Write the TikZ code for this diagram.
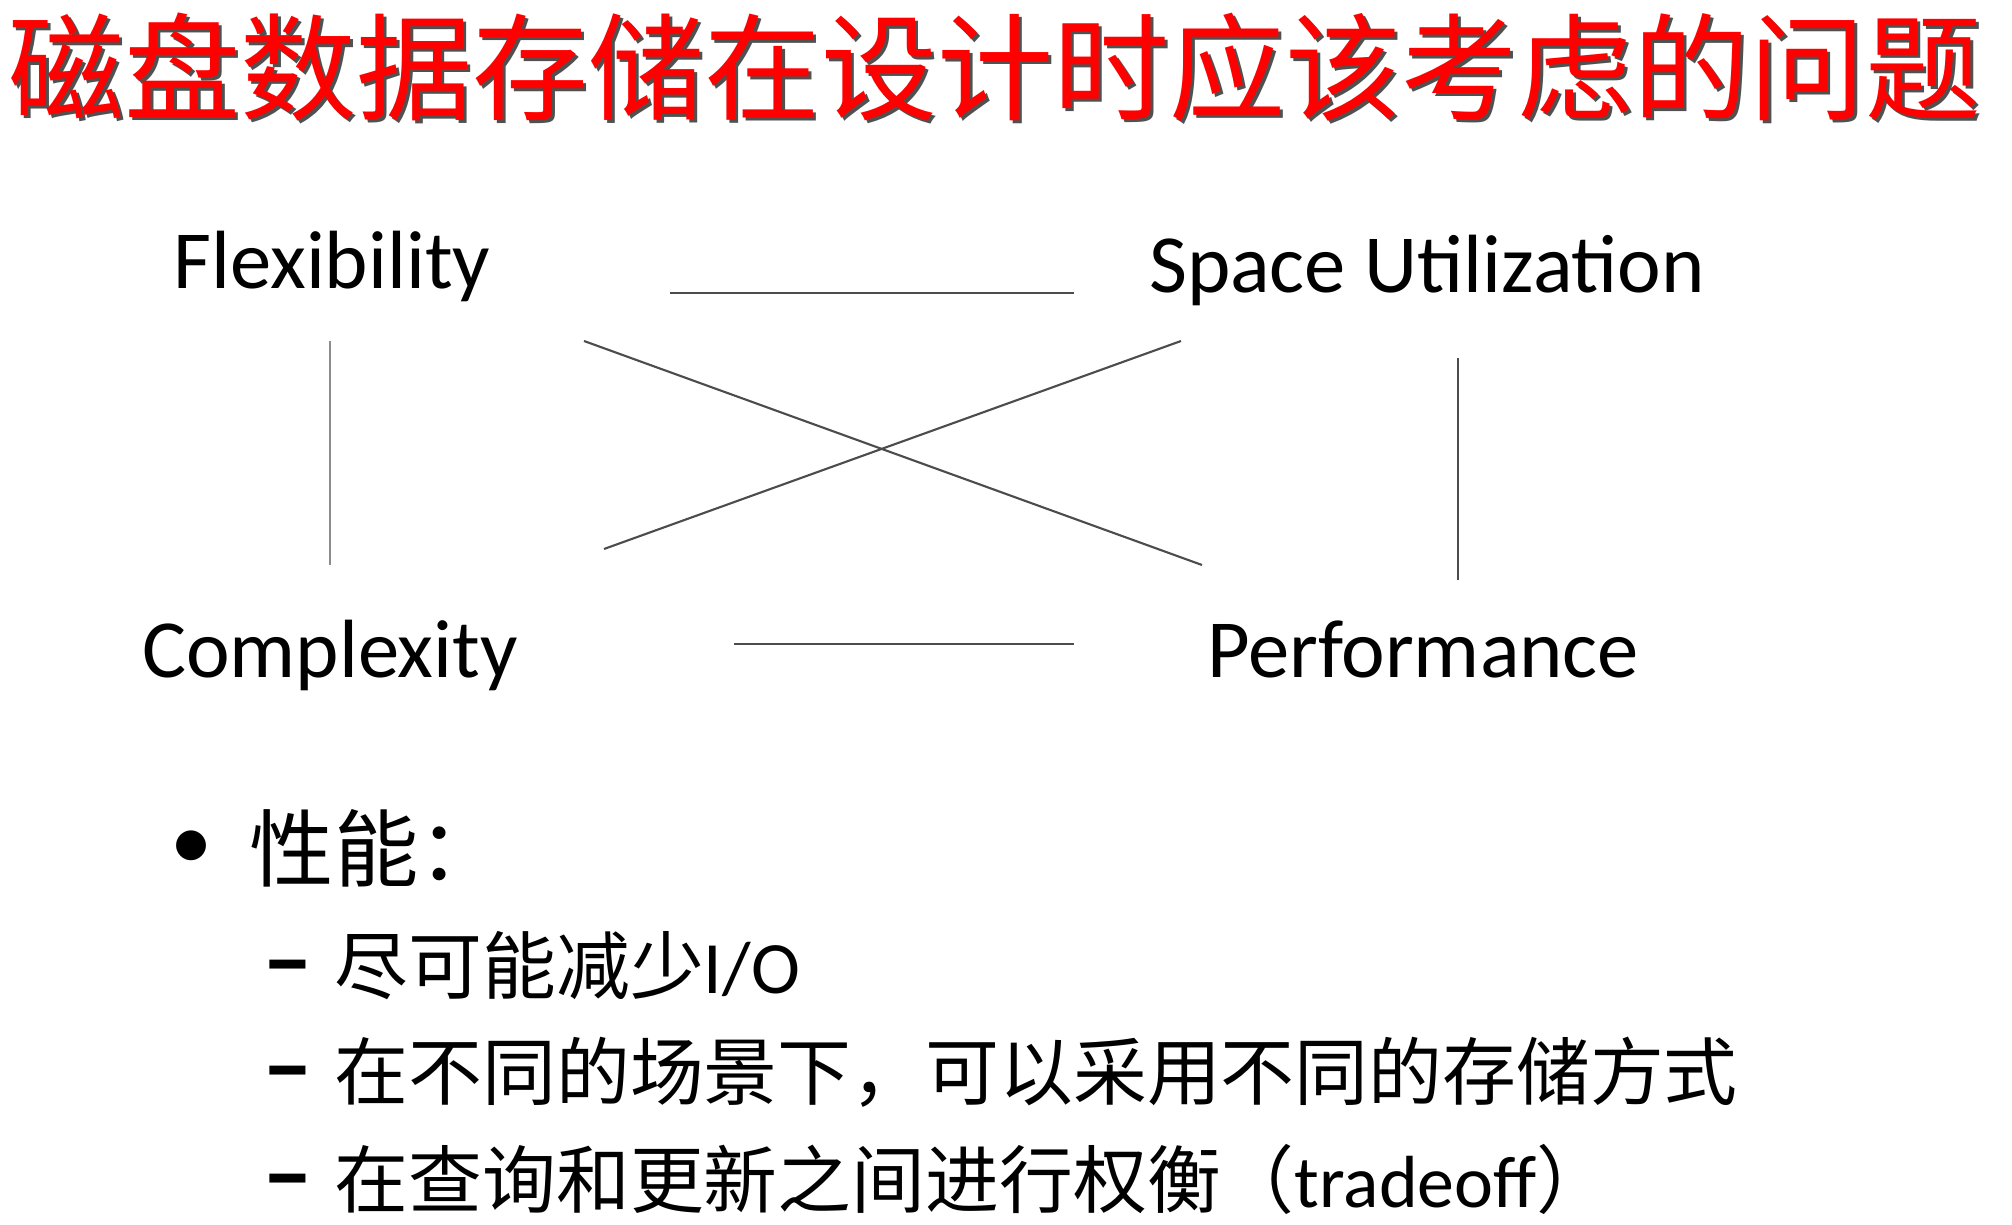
\documentclass[tikz,border=0pt]{standalone}
\usepackage{fontspec}
\setmainfont{Carlito}
\newfontfamily\cjk{Noto Sans CJK SC}
\usetikzlibrary{positioning}
\usetikzlibrary{calc}

\begin{document}
\begin{tikzpicture}[
        x=0.01cm, y=-0.01cm,
        every node/.style={inner sep=0pt},
        heading/.style={anchor=west, font=\fontsize{33pt}{38pt}\selectfont\cjk},
        term/.style={anchor=base, font=\fontsize{23.5pt}{28pt}\selectfont},
        link/.style={draw=black!70, line width=0.6pt},
        point/.style={anchor=west, font=\fontsize{24pt}{28pt}\selectfont},
        item/.style={anchor=west, font=\fontsize{21pt}{25pt}\selectfont},
        dashmark/.style={anchor=base east, font=\fontsize{29pt}{34pt}\selectfont\bfseries},
    ]
        % Color palette
        \definecolor{titlered}{RGB}{255,0,0}
        \definecolor{shade}{RGB}{80,80,80}
        \useasboundingbox (0,0) rectangle (2012,1225);

        % Title with its shadow
        \node[heading, text=shade] (titleshade) at (11,70) {磁盘数据存储在设计时应该考虑的问题};
        \node[heading, text=titlered] (title) at (8,67) {磁盘数据存储在设计时应该考虑的问题};

        % Four concerns
        \node[term] (flex) at (332,289) {Flexibility};
        \node[term] (space) at (1427,293) {Space Utilization};
        \node[term] (compl) at (330,678) {Complexity};
        \node[term] (perf) at (1423,678) {Performance};

        % Ends of the edges
        \coordinate (fs1) at (670,293);
        \coordinate (fs2) at (1074,293);
        \coordinate (cp1) at (734,644);
        \coordinate (cp2) at (1074,644);
        \coordinate (fc1) at (330,341);
        \coordinate (fc2) at (330,565);
        \coordinate (sp1) at (1458,358);
        \coordinate (sp2) at (1458,580);
        \coordinate (fp1) at (584,341);
        \coordinate (fp2) at (1202,565);
        \coordinate (sc1) at (1181,341);
        \coordinate (sc2) at (604,549);

        % Edges
        \draw[link] (fs1) -- (fs2);
        \draw[link] (cp1) -- (cp2);
        \draw[link, draw=black!45] (fc1) -- (fc2);
        \draw[link] (sp1) -- (sp2);
        \draw[link] (fp1) -- (fp2);
        \draw[link] (sc1) -- (sc2);

        % Bullet list
        \node[point, anchor=center] (dot) at (192,850) {\textbullet};
        \node[point] (perfhead) at (249,848) {\cjk 性能：};
        \node[item] (item1) at (334,966) {\cjk 尽可能减少\rmfamily I/O};
        \node[item] (item2) at (334,1072) {\cjk 在不同的场景下，可以采用不同的存储方式};
        \node[item] (item3) at (334,1179) {\cjk 在查询和更新之间进行权衡（\rmfamily tradeoff\cjk ）};
        \node[dashmark] (dash1) at ([xshift=-0.2cm]item1.base west) {–};
        \node[dashmark] (dash2) at ([xshift=-0.2cm]item2.base west) {–};
        \node[dashmark] (dash3) at ([xshift=-0.2cm]item3.base west) {–};

    \end{tikzpicture}
\end{document}
